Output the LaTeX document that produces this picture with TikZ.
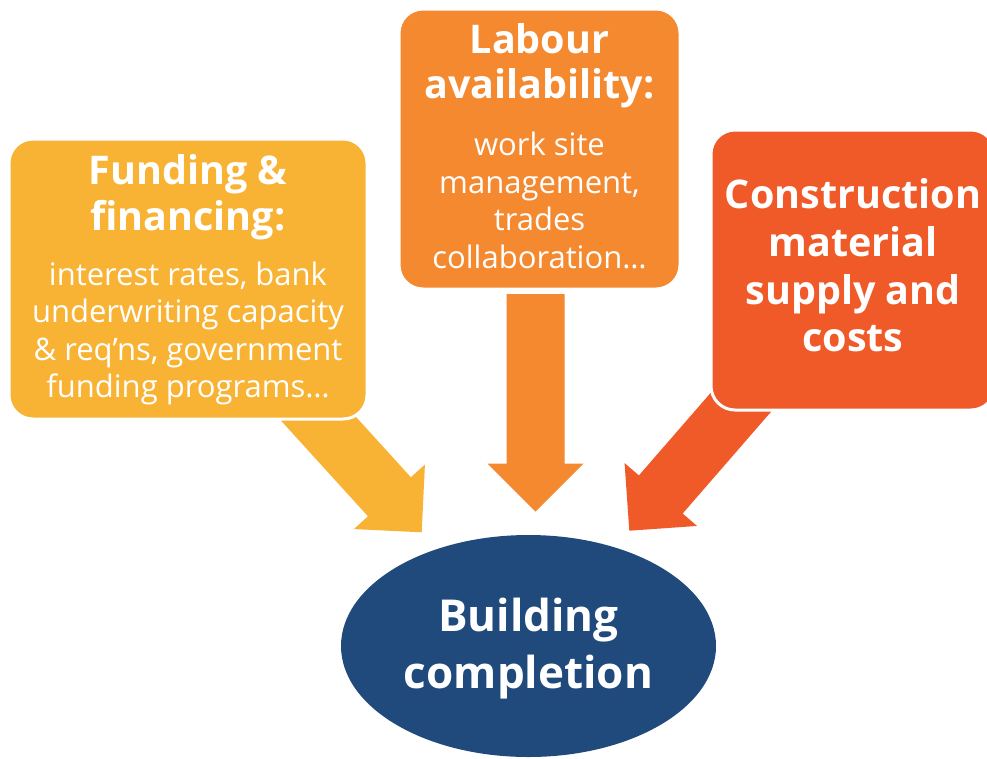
\documentclass[tikz,border=0pt]{standalone}
\usepackage{fontspec}
\setmainfont{Open Sans}
\usetikzlibrary{calc,shapes.geometric}

\definecolor{fundcol}{RGB}{248,179,52}
\definecolor{labcol}{RGB}{244,137,48}
\definecolor{matcol}{RGB}{240,90,41}
\definecolor{donecol}{RGB}{33,74,124}

% block arrow: start, tip, colour
\newcommand{\bigarrow}[3]{%
  \coordinate (h) at ($(#2)!48pt!(#1)$);
  \fill[#3] ($(#1)!29pt!90:(#2)$) -- ($(h)!29pt!90:(#2)$) -- ($(h)!48pt!90:(#2)$)
    -- (#2) -- ($(h)!48pt!-90:(#2)$) -- ($(h)!29pt!-90:(#2)$) -- ($(#1)!29pt!-90:(#2)$) -- cycle;
}

\begin{document}
\begin{tikzpicture}[x=1pt, y=-1pt,
    box/.style={draw=white, line width=3pt, rounded corners=24pt, minimum height=280pt, inner sep=0pt},
    head/.style={text=white, align=center, anchor=base, font=\bfseries\fontsize{39.5}{45.5}\selectfont},
    body/.style={text=white, align=center, anchor=base, font=\fontsize{31}{37.6}\selectfont}]
	\useasboundingbox (0,0) rectangle (987,758);
	\clip (0,0) rectangle (987,758);

	\coordinate (fundout) at (273.7,369.5);
	\coordinate (fundin) at (421.7,532.3);
	\coordinate (labout) at (535.5,294);
	\coordinate (labin) at (535.5,511.7);
	\coordinate (matout) at (773.6,364.6);
	\coordinate (matin) at (629.3,530.7);

	\bigarrow{fundout}{fundin}{fundcol}
	\bigarrow{labout}{labin}{labcol}
	\bigarrow{matout}{matin}{matcol}

	\node[box, fill=fundcol, minimum width=358pt] (fund) at (188,279) {};
	\node[box, fill=labcol, minimum width=281pt] (lab) at (539.5,149) {};
	\node[box, fill=matcol, minimum width=284pt] (mat) at (853,270) {};
	\node[ellipse, fill=donecol, minimum width=375pt, minimum height=222pt, inner sep=0pt] (done) at (528.5,646) {};

	\node[head] at ($(fund.north)+(0,92.7)$) {Funding \&\\financing:};
	\node[body] at ($(fund.north)+(0,260.3)$) {interest rates, bank\\underwriting capacity\\\& req’ns, government\\funding programs…};

	\node[head] at ($(lab.north)+(0,91)$) {Labour\\availability:};
	\node[body] at ($(lab.north)+(0,261)$) {work site\\management,\\trades\\collaboration…};

	\node[head, font=\bfseries\fontsize{39.5}{47.8}\selectfont] at ($(mat.north)+(0,223.3)$) {Construction\\material\\supply and\\costs};

	\node[head, font=\bfseries\fontsize{44}{56.7}\selectfont] at ($(done.north)+(0,153.3)$) {Building\\completion};
\end{tikzpicture}
\end{document}
